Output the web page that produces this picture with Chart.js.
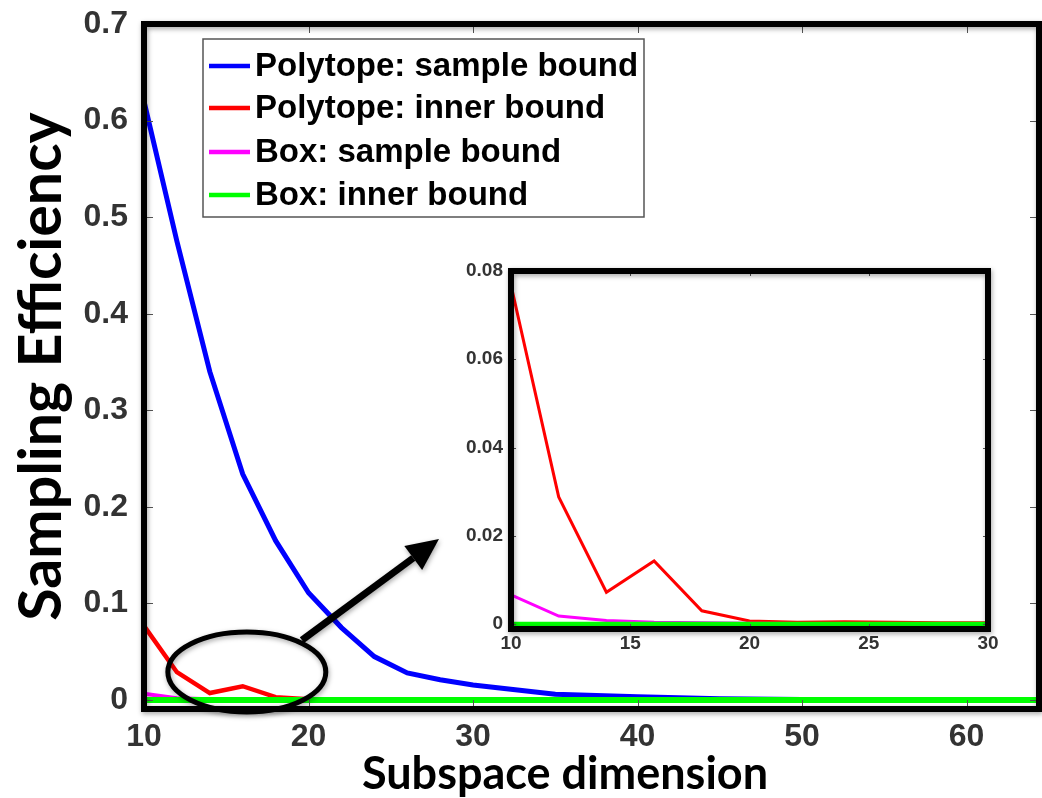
<!DOCTYPE html>
<html>
<head>
<meta charset="utf-8">
<script src="https://cdn.jsdelivr.net/npm/chart.js@4.4.1/dist/chart.umd.min.js"></script>
<style>
    html, body { margin: 0; padding: 0; background: #fff; }
    #wrap { position: relative; width: 1042px; height: 798px; overflow: hidden; }
    #mainChart { position: absolute; left: 0; top: 0; }
    #insetChart { position: absolute; left: 440px; top: 250px; }
</style>
</head>
<body>
<div id="wrap">
    <canvas id="mainChart" width="1042" height="798"></canvas>
    <canvas id="insetChart" width="570" height="410"></canvas>
</div>
<script>
// === Data ===
const dims = [10, 12, 14, 16, 18, 20, 22, 24, 26, 28, 30, 35, 40, 45, 50, 55, 60, 65];
const polySample = [0.62, 0.475, 0.34, 0.234, 0.165, 0.111, 0.075, 0.045, 0.028, 0.021, 0.0155, 0.006, 0.0035, 0.0012, 0.0005, 0.0005, 0.0005, 0.0005];
const polyInner = [0.0768, 0.0288, 0.0072, 0.0143, 0.003, 0.0007, 0.0004, 0.0005, 0.0004, 0.0003, 0.0003, 0.0002, 0.0001, 0, 0, 0, 0, 0];
const boxSample = [0.0066, 0.0018, 0.0008, 0.0004, 0.0003, 0.0002, 0.0001, 0.0001, 0, 0, 0, 0, 0, 0, 0, 0, 0, 0];
const boxInner = [0, 0, 0, 0, 0, 0, 0, 0, 0, 0, 0, 0, 0, 0, 0, 0, 0, 0];

const seriesLabels = ["Polytope: sample bound", "Polytope: inner bound", "Box: sample bound", "Box: inner bound"];
const seriesColors = ["#0000ff", "#ff0000", "#ff00ff", "#00ff00"];

const xTicks = [10, 20, 30, 40, 50, 60];
const yTicks = [0, 0.1, 0.2, 0.3, 0.4, 0.5, 0.6, 0.7];
const insetXTicks = [10, 15, 20, 25, 30];
const insetYTicks = [0, 0.02, 0.04, 0.06, 0.08];
const xTitle = "Subspace dimension";
const yTitle = "Sampling Efficiency";

const toPoints = vals => dims.map((d, i) => ({ x: d, y: vals[i] }));

const tickFont = size => ({ family: "'Liberation Sans', Arial, sans-serif", weight: "bold", size });

// no extra padding for edge tick labels
const noPad = s => { s.paddingTop = 0; s.paddingBottom = 0; s.paddingLeft = 0; s.paddingRight = 0; };

// === Frame, inner ticks, legend and annotations ===
function drawLine(ctx, x1, y1, x2, y2) {
    ctx.beginPath();
    ctx.moveTo(x1, y1);
    ctx.lineTo(x2, y2);
    ctx.stroke();
}

const framePlugin = {
    id: "frame",
    beforeDraw(chart) {
        const { ctx, chartArea: a } = chart;
        ctx.save();
        ctx.fillStyle = "#fff";
        ctx.fillRect(a.left, a.top, a.right - a.left, a.bottom - a.top);
        ctx.restore();
    },
    afterDatasetsDraw(chart, args, opts) {
        const { ctx, chartArea: a, scales } = chart;
        const len = opts.tickLen;
        ctx.save();
        ctx.strokeStyle = "#555";
        ctx.lineWidth = 1;
        scales.x.ticks.forEach(t => {
            const px = Math.round(scales.x.getPixelForValue(t.value)) + 0.5;
            drawLine(ctx, px, a.bottom, px, a.bottom - len);
            drawLine(ctx, px, a.top, px, a.top + len);
        });
        scales.y.ticks.forEach(t => {
            const py = Math.round(scales.y.getPixelForValue(t.value)) + 0.5;
            drawLine(ctx, a.left, py, a.left + len, py);
            drawLine(ctx, a.right, py, a.right - len, py);
        });

        ctx.shadowColor = "rgba(0,0,0,0.35)";
        ctx.shadowBlur = 5;
        ctx.shadowOffsetX = 1;
        ctx.shadowOffsetY = 2;
        ctx.strokeStyle = "#000";
        ctx.lineWidth = opts.width;
        ctx.strokeRect(a.left, a.top, a.right - a.left, a.bottom - a.top);
        ctx.restore();
    }
};

const mainExtras = {
    id: "mainExtras",
    afterDatasetsDraw(chart) {
        const { ctx, chartArea: a, scales } = chart;
        const x = scales.x, y = scales.y;

        // ellipse around the zoomed region
        const cx = x.getPixelForValue(16.25), cy = y.getPixelForValue(0.029);
        const rx = x.getPixelForValue(16.25 + 4.8) - cx;
        const ry = cy - y.getPixelForValue(0.029 + 0.0414);
        ctx.save();
        ctx.shadowColor = "rgba(0,0,0,0.35)";
        ctx.shadowBlur = 5;
        ctx.shadowOffsetX = 1;
        ctx.shadowOffsetY = 2;
        ctx.strokeStyle = "#000";
        ctx.lineWidth = 5;
        ctx.beginPath();
        ctx.ellipse(cx, cy, rx, ry, 0, 0, Math.PI * 2);
        ctx.stroke();

        // arrow to the inset
        const x1 = x.getPixelForValue(19.6), y1 = y.getPixelForValue(0.062);
        const x2 = x.getPixelForValue(27.93), y2 = y.getPixelForValue(0.1667);
        const ang = Math.atan2(y2 - y1, x2 - x1);
        const head = 32, half = 15;
        const bx = x2 - head * Math.cos(ang), by = y2 - head * Math.sin(ang);
        ctx.lineWidth = 7;
        drawLine(ctx, x1, y1, bx, by);
        ctx.fillStyle = "#000";
        ctx.beginPath();
        ctx.moveTo(x2, y2);
        ctx.lineTo(bx + half * Math.sin(ang), by - half * Math.cos(ang));
        ctx.lineTo(bx - half * Math.sin(ang), by + half * Math.cos(ang));
        ctx.closePath();
        ctx.fill();
        ctx.restore();

        // legend box (entries in the reference's order)
        const lx = a.left + 59, ly = a.top + 15, lw = 441, lh = 178;
        ctx.save();
        ctx.fillStyle = "#fff";
        ctx.fillRect(lx, ly, lw, lh);
        ctx.strokeStyle = "#555";
        ctx.lineWidth = 1.5;
        ctx.strokeRect(lx, ly, lw, lh);
        ctx.font = "bold 33px 'Liberation Sans', Arial, sans-serif";
        ctx.textBaseline = "middle";
        ctx.fillStyle = "#000";
        const rowY = [27, 69, 113, 156];
        chart.data.datasets.forEach((ds, i) => {
            const ry2 = ly + rowY[i];
            ctx.strokeStyle = ds.borderColor;
            ctx.lineWidth = 4.5;
            drawLine(ctx, lx + 6, ry2, lx + 47, ry2);
            ctx.fillText(ds.label, lx + 52, ry2 + 1);
        });
        ctx.restore();
    },
    afterDraw(chart) {
        // x-axis title, centred where the reference has it
        const { ctx, chartArea: a } = chart;
        ctx.save();
        ctx.font = "bold 45px Lato, 'Open Sans', sans-serif";
        ctx.fillStyle = "#000";
        ctx.textAlign = "center";
        ctx.textBaseline = "alphabetic";
        ctx.fillText(xTitle, a.left + 421, a.bottom + 80);
        ctx.restore();
    }
};

// === Main chart ===
new Chart(document.getElementById("mainChart"), {
    type: "line",
    data: {
        datasets: [
            { label: seriesLabels[0], data: toPoints(polySample), borderColor: seriesColors[0], borderWidth: 5, order: 4 },
            { label: seriesLabels[1], data: toPoints(polyInner), borderColor: seriesColors[1], borderWidth: 4.5, order: 3 },
            { label: seriesLabels[2], data: toPoints(boxSample), borderColor: seriesColors[2], borderWidth: 4, order: 2 },
            { label: seriesLabels[3], data: toPoints(boxInner), borderColor: seriesColors[3], borderWidth: 6, order: 1 }
        ]
    },
    options: {
        responsive: false,
        animation: false,
        parsing: false,
        elements: { point: { radius: 0 }, line: { tension: 0 } },
        layout: { padding: { top: 24, right: 3, left: 0, bottom: 0 } },
        plugins: {
            legend: { display: false },
            tooltip: { enabled: false },
            frame: { width: 6, tickLen: 9 }
        },
        scales: {
            x: {
                type: "linear",
                min: 10,
                max: 64.4,
                afterBuildTicks: s => { s.ticks = xTicks.map(v => ({ value: v })); },
                afterFit: s => { s.height = 89; noPad(s); },
                grid: { display: false, drawTicks: false },
                border: { display: false },
                ticks: { font: tickFont(32), color: "#333", padding: 9, maxRotation: 0, autoSkip: false }
            },
            y: {
                type: "linear",
                min: -0.0093,
                max: 0.7,
                afterBuildTicks: s => { s.ticks = yTicks.map(v => ({ value: v })); },
                afterFit: s => { s.width = 144; noPad(s); },
                grid: { display: false, drawTicks: false },
                border: { display: false },
                ticks: { font: tickFont(32), color: "#333", padding: 16, callback: v => String(v) },
                title: {
                    display: true,
                    text: yTitle,
                    color: "#000",
                    font: { family: "Lato, 'Open Sans', sans-serif", weight: "bold", size: 59, lineHeight: 1 },
                    padding: { top: 12, bottom: 0 }
                }
            }
        }
    },
    plugins: [framePlugin, mainExtras]
});

// === Inset (zoom of dims 10-30) ===
new Chart(document.getElementById("insetChart"), {
    type: "line",
    data: {
        datasets: [
            { label: seriesLabels[1], data: toPoints(polyInner), borderColor: seriesColors[1], borderWidth: 3, order: 3 },
            { label: seriesLabels[2], data: toPoints(boxSample), borderColor: seriesColors[2], borderWidth: 3, order: 2 },
            { label: seriesLabels[3], data: toPoints(boxInner), borderColor: seriesColors[3], borderWidth: 4.5, order: 1 }
        ]
    },
    options: {
        responsive: false,
        animation: false,
        parsing: false,
        elements: { point: { radius: 0 }, line: { tension: 0 } },
        layout: { padding: { top: 21, right: 22, left: 0, bottom: 0 } },
        plugins: {
            legend: { display: false },
            tooltip: { enabled: false },
            frame: { width: 6, tickLen: 5 }
        },
        scales: {
            x: {
                type: "linear",
                min: 10,
                max: 30,
                afterBuildTicks: s => { s.ticks = insetXTicks.map(v => ({ value: v })); },
                afterFit: s => { s.height = 31; noPad(s); },
                grid: { display: false, drawTicks: false },
                border: { display: false },
                ticks: { font: tickFont(19), color: "#333", padding: 3, maxRotation: 0, autoSkip: false }
            },
            y: {
                type: "linear",
                min: -0.00113,
                max: 0.08,
                afterBuildTicks: s => { s.ticks = insetYTicks.map(v => ({ value: v })); },
                afterFit: s => { s.width = 71; noPad(s); },
                grid: { display: false, drawTicks: false },
                border: { display: false },
                ticks: { font: tickFont(19), color: "#333", padding: 8, callback: v => String(v) }
            }
        }
    },
    plugins: [framePlugin]
});
</script>
</body>
</html>
